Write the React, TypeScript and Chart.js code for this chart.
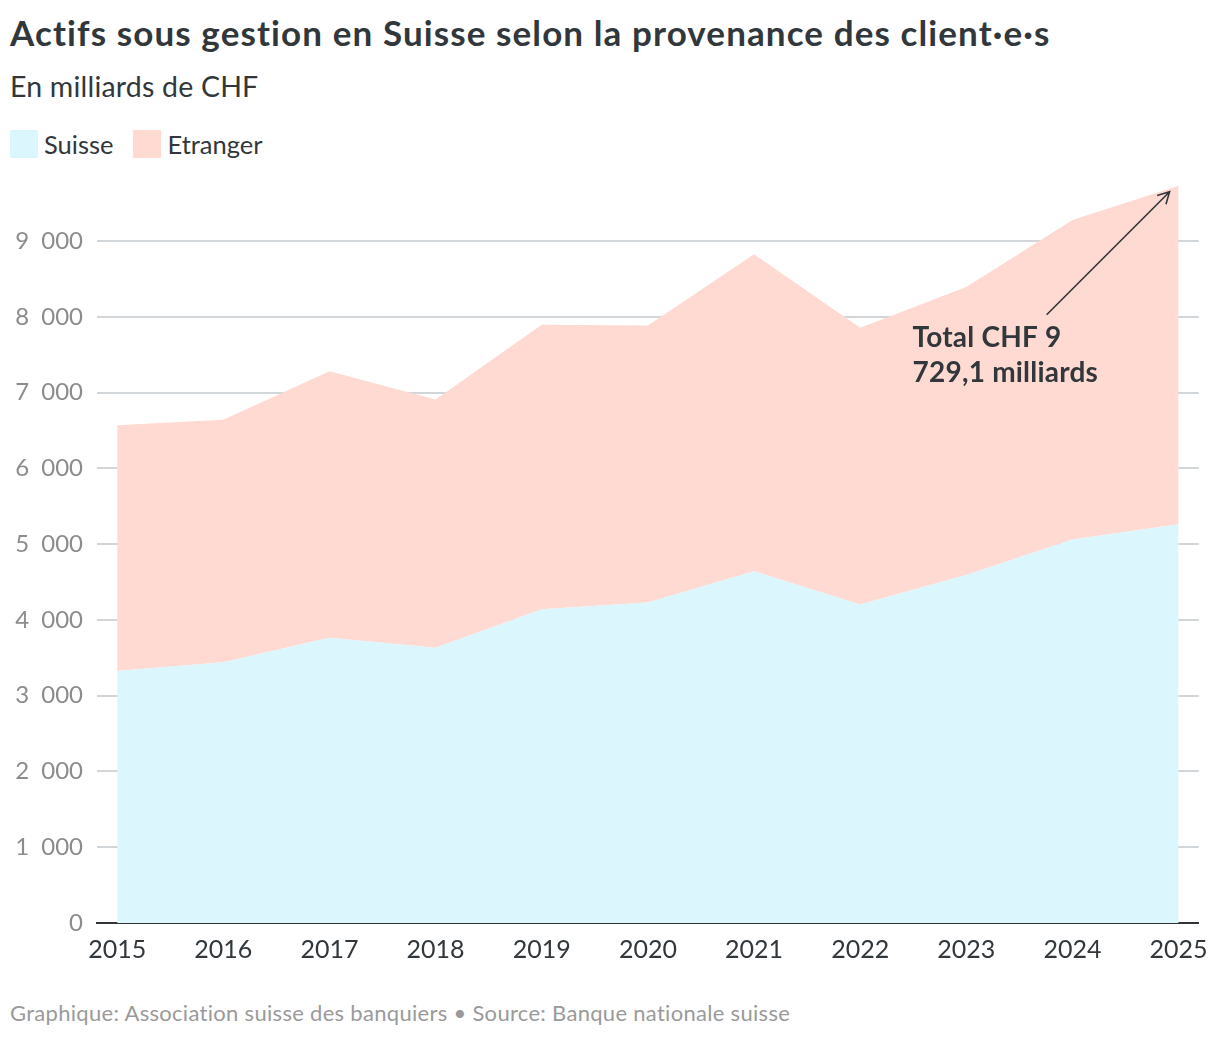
import React, { useEffect, useRef } from 'react';
import { Chart, registerables } from 'chart.js';

Chart.register(...registerables);

// === Data (milliards de CHF) ===
const YEARS = [2015, 2016, 2017, 2018, 2019, 2020, 2021, 2022, 2023, 2024, 2025];
const SUISSE = [3324, 3441, 3765, 3634, 4141, 4230, 4643, 4202, 4592, 5061, 5263];
const ETRANGER = [3244, 3201, 3515, 3274, 3754, 3656, 4182, 3654, 3801, 4218, 4466.1];
const Y_TICKS = [0, 1000, 2000, 3000, 4000, 5000, 6000, 7000, 8000, 9000];
const TOTAL_LABEL = ['Total CHF 9', '729,1 milliards'];

const COLOR_SUISSE = '#dcf6fd';
const COLOR_ETRANGER = '#fedad2';
const TEXT_DARK = '#31373b';
const FONT = 'Lato, "Noto Sans", sans-serif';

// thousands separated by an en space, like "9 000"
const fmt = (v: number) => String(v).replace(/\B(?=(\d{3})+(?!\d))/g, '\u2002');

// arrow + total label next to the last point
const totalNote = {
  id: 'totalNote',
  afterDraw(chart: any) {
    const { ctx, scales } = chart;
    const last = YEARS.length - 1;
    const px = scales.x.getPixelForValue(YEARS[last]);
    const py = scales.y.getPixelForValue(SUISSE[last] + ETRANGER[last]);
    const tipX = px - 9, tipY = py + 6;
    const startX = px - 132, startY = py + 129;
    ctx.save();
    ctx.strokeStyle = TEXT_DARK;
    ctx.lineWidth = 1.6;
    ctx.beginPath();
    ctx.moveTo(startX, startY);
    ctx.lineTo(tipX, tipY);
    const ang = Math.atan2(tipY - startY, tipX - startX);
    const len = 13;
    ctx.moveTo(tipX - len * Math.cos(ang - 0.5), tipY - len * Math.sin(ang - 0.5));
    ctx.lineTo(tipX, tipY);
    ctx.lineTo(tipX - len * Math.cos(ang + 0.5), tipY - len * Math.sin(ang + 0.5));
    ctx.stroke();
    ctx.fillStyle = TEXT_DARK;
    ctx.font = `bold 28px ${FONT}`;
    ctx.letterSpacing = '0.2px';
    ctx.textBaseline = 'alphabetic';
    ctx.textAlign = 'left';
    ctx.fillText(TOTAL_LABEL[0], px - 266, py + 161);
    ctx.fillText(TOTAL_LABEL[1], px - 266, py + 196);
    ctx.restore();
  },
};

const AreaChart: React.FC = () => {
  const canvasRef = useRef<HTMLCanvasElement>(null);

  useEffect(() => {
    if (!canvasRef.current) return;
    const chart = new Chart(canvasRef.current, {
      type: 'line',
      data: {
        datasets: [
          {
            label: 'Suisse',
            data: YEARS.map((yr, i) => ({ x: yr, y: SUISSE[i] })),
            backgroundColor: COLOR_SUISSE,
            borderWidth: 0,
            pointRadius: 0,
            fill: 'origin',
            tension: 0,
          },
          {
            label: 'Etranger',
            data: YEARS.map((yr, i) => ({ x: yr, y: ETRANGER[i] })),
            backgroundColor: COLOR_ETRANGER,
            borderWidth: 0,
            pointRadius: 0,
            fill: '-1',
            tension: 0,
          },
        ],
      },
      options: {
        animation: false,
        responsive: false,
        maintainAspectRatio: false,
        layout: { padding: { top: 0, right: 21, left: 0, bottom: 0 } },
        plugins: { legend: { display: false }, tooltip: { enabled: false } },
        scales: {
          x: {
            type: 'linear',
            min: YEARS[0] - 0.19,
            max: YEARS[YEARS.length - 1] + 0.19,
            z: 1,
            afterBuildTicks: (s: any) => { s.ticks = YEARS.map(v => ({ value: v })); },
            afterFit: (s: any) => { s.height = 57; },
            grid: { display: false, drawTicks: false },
            border: { display: true, color: '#2f3438', width: 2 },
            ticks: {
              padding: 12,
              color: TEXT_DARK,
              font: { family: FONT, size: 25 },
              maxRotation: 0,
              autoSkip: false,
              callback: (v: any) => String(v),
            },
          },
          y: {
            stacked: true,
            min: 0,
            max: 9800,
            z: 1,
            afterBuildTicks: (s: any) => { s.ticks = Y_TICKS.map(v => ({ value: v })); },
            afterFit: (s: any) => { s.width = 97; },
            grid: { color: 'rgba(110,120,130,0.3)', lineWidth: 2, drawTicks: false },
            border: { display: false },
            ticks: {
              padding: 14,
              color: '#8c8c8c',
              font: { family: FONT, size: 24 },
              callback: (v: any) => fmt(v),
            },
          },
        },
      },
      plugins: [totalNote],
    });
    return () => chart.destroy();
  }, []);

  return <canvas ref={canvasRef} width={1220} height={828} style={{ position: 'absolute', left: 0, top: 152 }} />;
};

const App: React.FC = () => {
  useEffect(() => {
    document.body.style.margin = '0';
  }, []);

  const legend = [
    { label: 'Suisse', color: COLOR_SUISSE },
    { label: 'Etranger', color: COLOR_ETRANGER },
  ];

  return (
    <div style={{ position: 'relative', width: 1220, height: 1040, background: '#fff', fontFamily: FONT, color: TEXT_DARK }}>
      <div style={{ position: 'absolute', left: 10, top: 12, fontSize: 35, fontWeight: 700, lineHeight: '40px', letterSpacing: 1.1, whiteSpace: 'nowrap' }}>
        Actifs sous gestion en Suisse selon la provenance des client·e·s
      </div>
      <div style={{ position: 'absolute', left: 10, top: 70, fontSize: 28.5, lineHeight: '32px', letterSpacing: 0.2, whiteSpace: 'nowrap' }}>En milliards de CHF</div>
      <div style={{ position: 'absolute', left: 10, top: 130, display: 'flex', alignItems: 'center', gap: 20 }}>
        {legend.map(l => (
          <div key={l.label} style={{ display: 'flex', alignItems: 'center', gap: 6 }}>
            <div style={{ width: 28, height: 28, background: l.color }} />
            <span style={{ fontSize: 25.5, lineHeight: '28px' }}>{l.label}</span>
          </div>
        ))}
      </div>
      <AreaChart />
      <div style={{ position: 'absolute', left: 10, top: 1000, fontSize: 22, lineHeight: '26px', letterSpacing: 0.3, color: '#9a9a9a', whiteSpace: 'nowrap' }}>
        Graphique: Association suisse des banquiers • Source: Banque nationale suisse
      </div>
    </div>
  );
};

export default App;
